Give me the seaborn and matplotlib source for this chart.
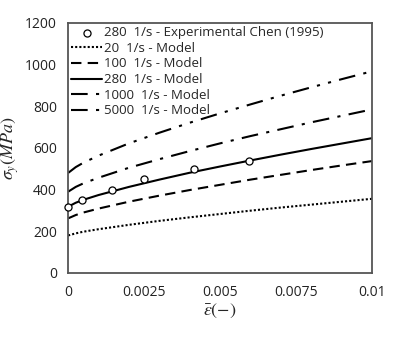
import matplotlib
matplotlib.use("Agg")
import matplotlib.pyplot as plt
import seaborn as sns
import pandas as pd

sns.set_theme(style="white")
plt.rcParams['font.family'] = ['Open Sans', 'DejaVu Sans']
plt.rcParams['mathtext.fontset'] = 'stix'

# Data
strain = [0, 0.00025, 0.0005, 0.001, 0.002, 0.003, 0.004, 0.005, 0.006, 0.007, 0.008, 0.009, 0.01]
s20 = [180, 190, 198, 210, 231, 250, 267, 283, 299, 314, 328, 342, 356]
s100 = [262, 278, 290, 309, 342, 371, 398, 423, 448, 471, 494, 516, 537]
s280 = [318, 337, 351, 374, 413, 448, 481, 511, 540, 568, 595, 621, 647]
s1000 = [390, 413, 430, 457, 505, 546, 585, 622, 657, 690, 723, 754, 785]
s5000 = [480, 508, 529, 563, 622, 673, 721, 766, 809, 851, 891, 930, 968]

exp_strain = [0, 0.00047, 0.00144, 0.00249, 0.00415, 0.00595]
exp_stress = [318, 348, 398, 449, 500, 539]

labels = ["20  1/s - Model", "100  1/s - Model", "280  1/s - Model",
          "1000  1/s - Model", "5000  1/s - Model"]
exp_label = "280  1/s - Experimental Chen (1995)"
xticks = [0, 0.0025, 0.005, 0.0075, 0.01]
xticklabels = ["0", "0.0025", "0.005", "0.0075", "0.01"]
yticks = [0, 200, 400, 600, 800, 1000, 1200]

styles = [(0, (1, 1)), (0, (5, 3)), '-', (0, (8, 4, 1.5, 4)), (0, (8, 4, 1.5, 4, 1.5, 4))]

fig = plt.figure(figsize=(4.08, 3.37), dpi=100)
ax = fig.add_axes([0.167, 0.19, 0.745, 0.742])

handles = []
for ser, lab, ls in zip([s20, s100, s280, s1000, s5000], labels, styles):
    df = pd.DataFrame({"x": strain, "y": ser})
    sns.lineplot(data=df, x="x", y="y", ax=ax, color="black", lw=1.5,
                 linestyle=ls, label=lab, legend=False)
    handles.append(ax.lines[-1])

dfe = pd.DataFrame({"x": exp_strain, "y": exp_stress})
sns.scatterplot(data=dfe, x="x", y="y", ax=ax, marker="o", s=26,
                facecolor="white", edgecolor="black", linewidth=0.9,
                label=exp_label, legend=False, zorder=5, clip_on=False)
exp_handle = ax.collections[-1]

ax.set_xlim(0, 0.01)
ax.set_ylim(0, 1200)
ax.set_xticks(xticks)
ax.set_xticklabels(xticklabels)
ax.set_yticks(yticks)
ax.tick_params(axis='both', length=0, labelsize=10, colors='#222222')
ax.tick_params(axis='x', pad=9)
ax.tick_params(axis='y', pad=8)
for sp in ax.spines.values():
    sp.set_color('#555555')
    sp.set_linewidth(1.3)

ax.set_xlabel(r"$\bar{\varepsilon}(-)$", fontsize=13, labelpad=1)
ax.set_ylabel(r"$\sigma_y(MPa)$", fontsize=13, labelpad=3)

leg = ax.legend([exp_handle] + handles, [exp_label] + labels,
                loc='upper left', frameon=False, fontsize=9.5,
                handlelength=2.3, handletextpad=0.15, labelspacing=0.2,
                borderaxespad=0.15, borderpad=0.1)

fig.savefig("out.png", dpi=100)
